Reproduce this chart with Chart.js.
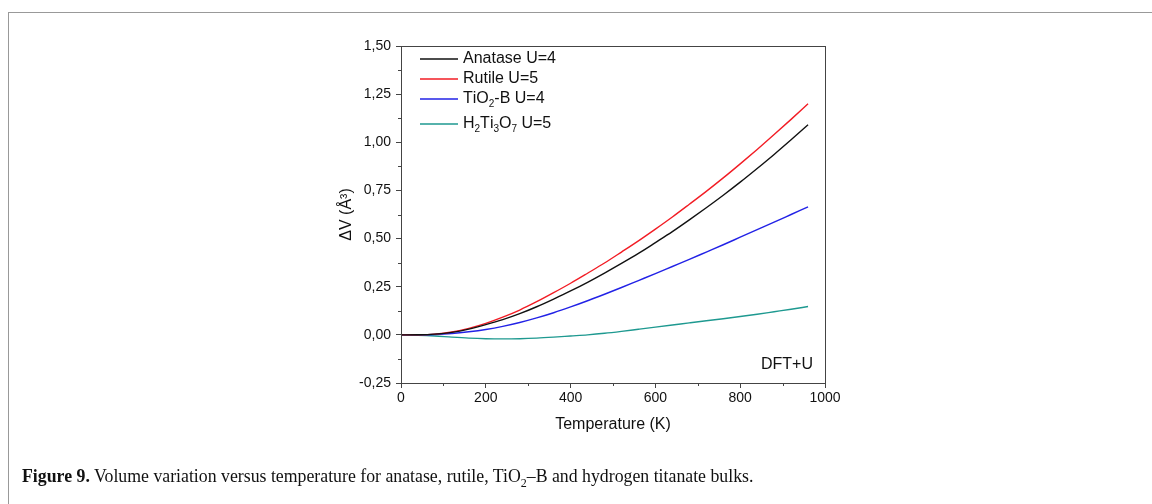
<!DOCTYPE html>
<html>
<head>
<meta charset="utf-8">
<script src="https://cdn.jsdelivr.net/npm/chart.js@4.4.1/dist/chart.umd.min.js"></script>
<style>
    html, body { margin: 0; padding: 0; background: #fff; }
    body { width: 1152px; height: 504px; position: relative; overflow: hidden; }
    #frame {
        position: absolute; left: 8px; top: 12px; width: 1300px; height: 600px;
        border: 1.5px solid #999; box-sizing: border-box;
    }
    #wrap { position: absolute; left: 0; top: 0; width: 1152px; height: 504px; }
    #caption {
        position: absolute; left: 22px; top: 466px;
        font-family: 'Liberation Serif', serif; font-size: 17.8px; color: #111;
        white-space: nowrap;
    }
    #caption b { font-weight: bold; }
    #caption sub { font-size: 12px; line-height: 0; }
</style>
</head>
<body>
<div id="frame"></div>
<div id="wrap"><canvas id="chart" width="1152" height="504"></canvas></div>
<div id="caption"><b>Figure 9.</b> Volume variation versus temperature for anatase, rutile, TiO<sub>2</sub>–B and hydrogen titanate bulks.</div>

<script>
// temperature grid (K)
const temperatures = [0, 40, 80, 120, 160, 200, 240, 280, 320, 360, 400, 440, 480,
    520, 560, 600, 640, 680, 720, 760, 800, 840, 880, 920, 960];

// volume change (A^3)
const anatase = [0, 0.0005, 0.004, 0.013, 0.030, 0.053, 0.079, 0.110, 0.146, 0.186, 0.228, 0.273, 0.321,
    0.371, 0.423, 0.479, 0.536, 0.597, 0.660, 0.725, 0.793, 0.864, 0.937, 1.013, 1.091];
const rutile = [0, 0.0005, 0.004, 0.015, 0.034, 0.060, 0.092, 0.129, 0.172, 0.219, 0.268, 0.320, 0.373,
    0.430, 0.488, 0.549, 0.612, 0.678, 0.745, 0.815, 0.888, 0.963, 1.040, 1.119, 1.200];
const tio2b = [0, 0.0003, 0.002, 0.007, 0.016, 0.028, 0.044, 0.064, 0.088, 0.115, 0.145, 0.177, 0.211,
    0.246, 0.282, 0.318, 0.355, 0.392, 0.430, 0.468, 0.507, 0.546, 0.585, 0.625, 0.665];
const h2ti3o7 = [0, -0.002, -0.006, -0.012, -0.017, -0.020, -0.021, -0.020, -0.017, -0.012, -0.006, 0.000, 0.008,
    0.018, 0.029, 0.040, 0.051, 0.062, 0.073, 0.084, 0.095, 0.107, 0.120, 0.133, 0.147];

// "_x" marks a subscript character
const seriesLabels = ['Anatase U=4', 'Rutile U=5', 'TiO_2-B U=4', 'H_2Ti_3O_7 U=5'];
const seriesColors = ['#111111', '#f21c24', '#2222e6', '#1e9990'];

const xTicks = [0, 200, 400, 600, 800, 1000];
const yTicks = [-0.25, 0, 0.25, 0.5, 0.75, 1.0, 1.25, 1.5];
const annotation = 'DFT+U';

const FONT = "'Liberation Sans', Arial, sans-serif";
const AXIS = '#444';

function toPoints(ys) {
    return temperatures.map((t, i) => ({ x: t, y: ys[i] }));
}

function drawRichText(ctx, text, x, y, size) {
    let cx = x;
    for (let i = 0; i < text.length; i++) {
        if (text[i] === '_' && i + 1 < text.length) {
            ctx.font = `${Math.round(size * 0.65)}px ${FONT}`;
            ctx.fillText(text[i + 1], cx, y + size * 0.3);
            cx += ctx.measureText(text[i + 1]).width;
            i++;
        } else {
            ctx.font = `${size}px ${FONT}`;
            ctx.fillText(text[i], cx, y);
            cx += ctx.measureText(text[i]).width;
        }
    }
}

const decorations = {
    id: 'decorations',
    afterDraw(chart) {
        const { ctx, chartArea: a, scales } = chart;
        ctx.save();

        // box
        ctx.strokeStyle = AXIS;
        ctx.lineWidth = 1;
        ctx.strokeRect(a.left + 0.5, a.top + 0.5, a.right - a.left, a.bottom - a.top);

        // minor ticks
        ctx.beginPath();
        for (let i = 0; i < xTicks.length - 1; i++) {
            const px = Math.round(scales.x.getPixelForValue((xTicks[i] + xTicks[i + 1]) / 2)) + 0.5;
            ctx.moveTo(px, a.bottom);
            ctx.lineTo(px, a.bottom + 3);
        }
        for (let i = 0; i < yTicks.length - 1; i++) {
            const py = Math.round(scales.y.getPixelForValue((yTicks[i] + yTicks[i + 1]) / 2)) + 0.5;
            ctx.moveTo(a.left, py);
            ctx.lineTo(a.left - 3, py);
        }
        ctx.stroke();

        // legend
        const rows = [59, 79, 99, 124];
        ctx.textBaseline = 'middle';
        ctx.fillStyle = '#111';
        seriesLabels.forEach((label, i) => {
            const y = rows[i];
            ctx.strokeStyle = seriesColors[i];
            ctx.lineWidth = 1.4;
            ctx.beginPath();
            ctx.moveTo(a.left + 19, y);
            ctx.lineTo(a.left + 57, y);
            ctx.stroke();
            drawRichText(ctx, label, a.left + 62, y, 16);
        });

        // annotation
        ctx.font = `16px ${FONT}`;
        ctx.textAlign = 'right';
        ctx.fillText(annotation, a.right - 12, a.bottom - 18);
        ctx.restore();
    }
};

new Chart(document.getElementById('chart'), {
    type: 'line',
    data: {
        datasets: [anatase, rutile, tio2b, h2ti3o7].map((ys, i) => ({
            label: seriesLabels[i],
            data: toPoints(ys),
            borderColor: seriesColors[i],
            borderWidth: 1.4,
            pointRadius: 0,
            cubicInterpolationMode: 'monotone',
            fill: false,
        })),
    },
    options: {
        responsive: false,
        animation: false,
        layout: { padding: { left: 333, right: 327, top: 46, bottom: 66 } },
        plugins: { legend: { display: false }, tooltip: { enabled: false } },
        scales: {
            x: {
                type: 'linear',
                min: 0,
                max: 1000,
                afterBuildTicks: (s) => { s.ticks = xTicks.map((v) => ({ value: v })); },
                afterFit: (s) => { s.height = 55; },
                grid: { drawOnChartArea: false, tickLength: 5, color: AXIS },
                border: { color: AXIS },
                ticks: {
                    color: '#111',
                    font: { family: FONT, size: 14 },
                    padding: 2,
                    maxRotation: 0,
                    callback: (v) => String(v),
                },
                title: { display: true, text: 'Temperature (K)', color: '#111', font: { family: FONT, size: 16 } },
            },
            y: {
                min: -0.25,
                max: 1.5,
                afterBuildTicks: (s) => { s.ticks = yTicks.map((v) => ({ value: v })); },
                afterFit: (s) => { s.width = 68; },
                grid: { drawOnChartArea: false, tickLength: 5, color: AXIS },
                border: { color: AXIS },
                ticks: {
                    color: '#111',
                    font: { family: FONT, size: 14 },
                    padding: 5,
                    callback: (v) => v.toFixed(2).replace('.', ','),
                },
                title: { display: true, text: 'ΔV (Å³)', color: '#111', font: { family: FONT, size: 16 } },
            },
        },
    },
    plugins: [decorations],
});
</script>
</body>
</html>
